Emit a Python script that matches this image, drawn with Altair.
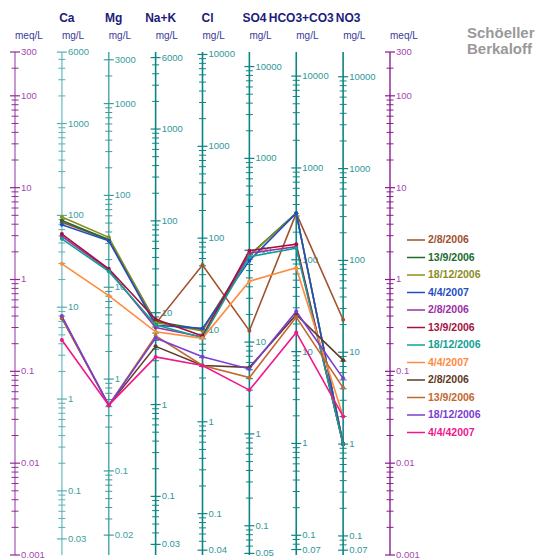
import math

import altair as alt
import pandas as pd

# ---------------------------------------------------------------- axes
AXIS_NAMES = ["meq/L", "Ca", "Mg", "Na+K", "Cl", "SO4", "HCO3+CO3", "NO3", "meq/L"]
HEADERS = ["Ca", "Mg", "Na+K", "Cl", "SO4", "HCO3+CO3", "NO3"]
UNITS = ["meq/L", "mg/L", "mg/L", "mg/L", "mg/L", "mg/L", "mg/L", "mg/L", "meq/L"]
EQ_WEIGHTS = [1.0, 20.04, 12.15, 23.0, 35.45, 48.03, 61.02, 62.0, 1.0]
TOP_LABELS = [300, 6000, 3000, 6000, 10000, 10000, 10000, 10000, 300]
BOTTOM_LABELS = [0.001, 0.03, 0.02, 0.03, 0.04, 0.05, 0.07, 0.07, 0.001]
MEQ_RANGE = [0.001, 300]

# ---------------------------------------------------------------- samples
SERIES_SITE = ["Site 1"] * 4 + ["Site 2"] * 4 + ["Site 3"] * 4
SERIES_DATE = ["2/8/2006", "13/9/2006", "18/12/2006", "4/4/2007",
               "2/8/2006", "13/9/2006", "18/12/2006", "4/4/2007",
               "2/8/2006", "13/9/2006", "18/12/2006", "4/4/42007"]

# concentrations in mg/L, one value per sample
CA = [84, 88, 96, 79, 59, 62.5, 55.5, 29.7, 7.6, 7.7, 8.0, 4.4]
MG = [33, 33, 35, 32, 15.5, 15.9, 14.9, 8.1, 0.52, 0.52, 0.52, 0.52]
NAK = [7.6, 8.0, 7.8, 7.3, 6.9, 8.5, 7.4, 6.2, 4.3, 5.6, 5.3, 3.3]
CL = [51, 10.1, 9.8, 10.4, 8.4, 8.6, 8.2, 8.1, 4.1, 4.1, 5.1, 4.1]
SO4 = [13.3, 88, 87, 77, 93, 99, 85, 46, 5.3, 4.1, 5.1, 3.0]
HCO3 = [320, 322, 322, 322, 139, 148, 134, 82, 25.2, 23.8, 27.4, 16.2]
NO3 = [22.6, 1.0, 1.0, 1.0, 1.0, 1.0, 1.0, 2.0, 8.2, 4.1, 5.2, 2.0]

# ---------------------------------------------------------------- styles
SERIES_COLORS = ["#a0522d", "#1b6b32", "#8c8c1e", "#1f4fc4",
                 "#9b2fa3", "#a3123f", "#12a092", "#ff8a3d",
                 "#5e3a26", "#c2682e", "#7a3ed2", "#f0168c"]
AXIS_LINE_COLORS = ["#b97fc8", "#8dcccc", "#5aadad", "#0e8585", "#0e8585",
                    "#0e8585", "#0e8585", "#0e8585", "#9b3aa3"]
AXIS_TICK_COLORS = ["#8e2a90", "#5aafaf", "#3a9b9b", "#0e8585", "#0e8585",
                    "#0e8585", "#0e8585", "#0e8585", "#8a1a8c"]
AXIS_LABEL_COLORS = ["#a448b2", "#3a9e9e", "#3a9e9e", "#2f9797", "#2f9797",
                     "#2f9797", "#2f9797", "#2f9797", "#a448b2"]
FONT = "Liberation Sans"

# ---------------------------------------------------------------- tables
keys = [f"{s} {d}" for s, d in zip(SERIES_SITE, SERIES_DATE)]
ion_values = [CA, MG, NAK, CL, SO4, HCO3, NO3]

samples = pd.DataFrame([
    {"key": keys[i], "pos": j + 1, "meq": vals[i] / EQ_WEIGHTS[j + 1]}
    for j, vals in enumerate(ion_values)
    for i in range(len(keys))
])


def log_ticks(lo, hi):
    out = []
    for e in range(math.floor(math.log10(lo)) - 1, math.ceil(math.log10(hi)) + 1):
        for k in range(1, 10):
            v = round(k * 10.0 ** e, 12)
            if lo * (1 - 1e-9) <= v <= hi * (1 + 1e-9):
                out.append(v)
    return out


x_enc = alt.X("pos:Q", scale=alt.Scale(domain=[0, 8], nice=False, zero=False), axis=None)
y_enc = alt.Y("meq:Q", scale=alt.Scale(type="log", domain=MEQ_RANGE, nice=False), axis=None)

layers = []
for j, name in enumerate(AXIS_NAMES):
    ew, lo, hi = EQ_WEIGHTS[j], BOTTOM_LABELS[j], TOP_LABELS[j]
    rows = []
    for v in log_ticks(lo, hi):
        decade = abs(math.log10(v) - round(math.log10(v))) < 1e-9
        labelled = decade or math.isclose(v, lo) or math.isclose(v, hi)
        rows.append({"pos": j, "meq": v / ew, "major": labelled,
                     "label": f"{v:g}" if labelled else ""})
    ticks = pd.DataFrame(rows)

    spine = pd.DataFrame({"pos": [j], "meq": [MEQ_RANGE[1]], "meq_low": [MEQ_RANGE[0]]})
    layers.append(
        alt.Chart(spine).mark_rule(color=AXIS_LINE_COLORS[j], strokeWidth=1.6)
        .encode(x=x_enc, y=y_enc, y2="meq_low:Q")
    )
    layers.append(
        alt.Chart(ticks[~ticks["major"]])
        .mark_tick(orient="horizontal", size=7, thickness=1, color=AXIS_TICK_COLORS[j], opacity=1)
        .encode(x=x_enc, y=y_enc)
    )
    layers.append(
        alt.Chart(ticks[ticks["major"]])
        .mark_tick(orient="horizontal", size=10, thickness=1.2, color=AXIS_TICK_COLORS[j], opacity=1)
        .encode(x=x_enc, y=y_enc)
    )
    layers.append(
        alt.Chart(ticks[ticks["major"]])
        .mark_text(align="left", baseline="middle", dx=6, font=FONT, fontSize=9.5,
                   color=AXIS_LABEL_COLORS[j])
        .encode(x=x_enc, y=y_enc, text="label:N")
    )

color_enc = alt.Color("key:N", scale=alt.Scale(domain=keys, range=SERIES_COLORS), legend=None)

layers.append(
    alt.Chart(samples).mark_line(strokeWidth=1.6)
    .encode(x=x_enc, y=y_enc, color=color_enc, detail="key:N")
)
layers.append(
    alt.Chart(samples).mark_circle(size=16, opacity=1)
    .encode(x=x_enc, y=y_enc, color=color_enc)
)

header_df = pd.DataFrame({"pos": list(range(1, 8)), "header": HEADERS})
layers.append(
    alt.Chart(header_df).mark_text(align="center", baseline="alphabetic", dx=5, font=FONT,
                                   fontSize=12, fontWeight="bold", color="#1c1c7a")
    .encode(x=x_enc, y=alt.value(-30), text="header:N")
)
unit_df = pd.DataFrame({"pos": list(range(9)), "unit": UNITS})
layers.append(
    alt.Chart(unit_df).mark_text(align="left", baseline="alphabetic", font=FONT,
                                 fontSize=10, color="#3b3b98")
    .encode(x=x_enc, y=alt.value(-13), text="unit:N")
)

main = alt.layer(*layers)

# hand-built legend: one short stroke and one bold label per sample
legend_df = pd.DataFrame({"key": keys, "date": SERIES_DATE, "row": list(range(len(keys)))})
legend_y = alt.Y("row:Q", scale=alt.Scale(domain=[0, len(keys) - 1], range=[188, 380.5]), axis=None)
legend_color = alt.Color("key:N", scale=alt.Scale(domain=keys, range=SERIES_COLORS), legend=None)
legend = alt.layer(
    alt.Chart(legend_df).mark_rule(strokeWidth=1.5)
    .encode(x=alt.value(392), x2=alt.value(410), y=legend_y, color=legend_color),
    alt.Chart(legend_df).mark_text(align="left", baseline="middle", font=FONT,
                                   fontSize=10.5, fontWeight="bold")
    .encode(x=alt.value(413), y=legend_y, text="date:N", color=legend_color),
)

title = alt.Chart(pd.DataFrame({"k": [0]})).mark_text(
    align="left", baseline="alphabetic", font=FONT, fontSize=15, fontWeight="bold",
    color="#999999", lineHeight=15.5,
).encode(x=alt.value(452), y=alt.value(-14), text=alt.value(["Schöeller", "Berkaloff"]))

chart = (
    alt.layer(main, legend, title)
    .resolve_scale(y="independent", color="independent")
    .properties(
        width=375,
        height=503,
        autosize=alt.AutoSizeParams(type="none"),
        padding={"left": 15, "top": 52, "right": 147, "bottom": 3},
        background="white",
    )
    .configure_view(strokeWidth=0)
)

chart.save("out.html", embed_options={"renderer": "svg", "actions": False})
